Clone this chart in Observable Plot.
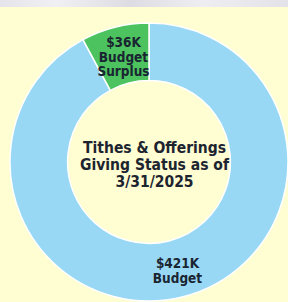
<!DOCTYPE html>
<html><head><meta charset="utf-8">
<script src="https://cdn.jsdelivr.net/npm/d3@7"></script>
<script src="https://cdn.jsdelivr.net/npm/@observablehq/plot@0.6"></script>
<style>
html,body{margin:0;padding:0;background:#fffdd2;overflow:hidden;}
#band{height:7px;background:linear-gradient(90deg,#e4e4ea,#f0f0f4 20%,#dcdce2 45%,#eeeef2 70%,#e2e2e8);}
#chart svg{display:block;}
g[aria-label="center-title"] text{letter-spacing:1.2px;}
g[aria-label="slice-labels"] text{letter-spacing:0.4px;}
</style></head>
<body><div id="band"></div><div id="chart"></div>
<script>
// Data
const names = ["Budget", "Budget Surplus"];
const amounts = [421, 36];
const sliceLabels = ["$421K\nBudget", "$36K\nBudget\nSurplus"];
const sliceColors = ["#98d8f4", "#4cc35e"];
const centerTitle = "Tithes & Offerings\nGiving Status as of\n3/31/2025";

const data = names.map((name, i) => ({name, value: amounts[i], label: sliceLabels[i]}));
const total = d3.sum(amounts);
let acc = 0;
const labelData = data.map(d => { const mid = acc + d.value / 2; acc += d.value; return {...d, mid}; });

const innerRatio = 82 / 140;

function frameGeom(dims) {
  const w = dims.width - dims.marginLeft - dims.marginRight;
  const h = dims.height - dims.marginTop - dims.marginBottom;
  return {cx: dims.marginLeft + w / 2, cy: dims.marginTop + h / 2, R: Math.min(w, h) / 2};
}

function arcRender(index, scales, values, dims) {
  const {cx, cy, R} = frameGeom(dims);
  const arc = d3.arc().innerRadius(R * innerRatio).outerRadius(R);
  const g = d3.create("svg:g").attr("transform", `translate(${cx},${cy})`);
  for (const i of index) {
    g.append("path")
      .attr("d", arc({startAngle: values.x1[i], endAngle: values.x2[i]}))
      .attr("fill", values.fill[i])
      .attr("stroke", "#ffffff")
      .attr("stroke-width", 1.5);
  }
  return g.node();
}

function labelRender(index, scales, values, dims, context, next) {
  const {cx, cy, R} = frameGeom(dims);
  const r = R * (1 + innerRatio) / 2;
  const X = new Float64Array(values.x.length);
  const Y = new Float64Array(values.x.length);
  for (const i of index) {
    const a = values.x[i];
    X[i] = cx + r * Math.sin(a);
    Y[i] = cy - r * Math.cos(a);
  }
  return next(index, scales, {...values, x: X, y: Y}, dims, context);
}

const font = "'DejaVu Sans Condensed', sans-serif";

const chart = Plot.plot({
  width: 288,
  height: 295,
  marginTop: 15,
  marginBottom: 0,
  marginLeft: 10,
  marginRight: 0,
  style: {background: "#fffdd2", fontFamily: font},
  x: {domain: [0, total], range: [0, 2 * Math.PI], axis: null},
  y: {axis: null},
  color: {domain: names, range: sliceColors},
  marks: [
    Plot.barX(data, Plot.stackX({x: "value", fill: "name", order: null, render: arcRender})),
    Plot.text(labelData, {
      x: "mid", text: "label", render: labelRender, ariaLabel: "slice-labels",
      fontSize: 13.5, fontWeight: "bold", fill: "#1a2532", lineHeight: 1.08, dx: 1, dy: 1.5
    }),
    Plot.text([centerTitle], {
      text: d => d, frameAnchor: "middle", ariaLabel: "center-title",
      fontSize: 15.5, fontWeight: "bold", fill: "#1c2430", lineHeight: 1.1, dx: 5, dy: 2
    })
  ]
});
document.getElementById("chart").append(chart);
</script>
</body></html>
